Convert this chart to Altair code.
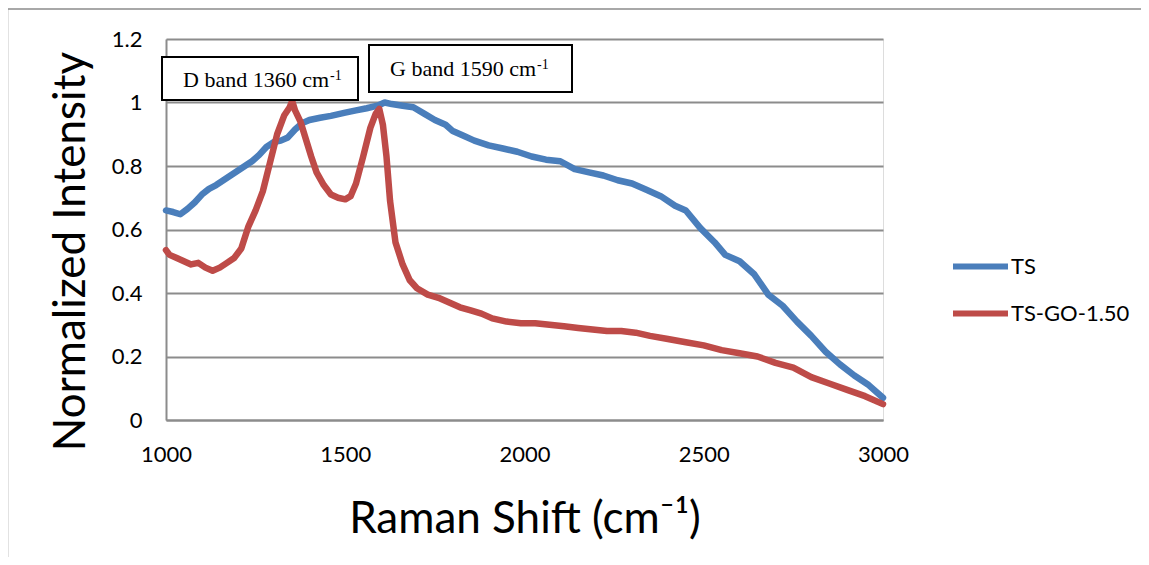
import altair as alt
import pandas as pd

# ---- data ----
ts_x = [1000, 1020, 1040, 1060, 1080, 1100, 1120, 1140, 1160, 1180, 1200, 1220, 1240, 1260,
        1280, 1300, 1320, 1340, 1360, 1380, 1400, 1430, 1460, 1500, 1530, 1560, 1590, 1610,
        1630, 1660, 1690, 1720, 1750, 1780, 1800, 1830, 1860, 1900, 1940, 1980, 2020, 2060,
        2100, 2140, 2180, 2220, 2260, 2300, 2340, 2380, 2420, 2450, 2490, 2530, 2560, 2600,
        2640, 2680, 2720, 2760, 2800, 2840, 2880, 2920, 2960, 3000]
ts_y = [0.66, 0.655, 0.648, 0.665, 0.685, 0.71, 0.728, 0.74, 0.755, 0.77, 0.785, 0.80, 0.815, 0.835,
        0.86, 0.875, 0.88, 0.89, 0.915, 0.935, 0.945, 0.952, 0.958, 0.968, 0.975, 0.982, 0.99, 1.0,
        0.995, 0.99, 0.985, 0.965, 0.945, 0.93, 0.91, 0.895, 0.88, 0.865, 0.855, 0.845, 0.83, 0.82,
        0.815, 0.79, 0.78, 0.77, 0.755, 0.745, 0.725, 0.705, 0.675, 0.66, 0.605, 0.56, 0.52, 0.5,
        0.46, 0.395, 0.36, 0.31, 0.265, 0.215, 0.175, 0.14, 0.11, 0.07]

go_x = [1000, 1010, 1030, 1050, 1070, 1090, 1110, 1130, 1150, 1170, 1190, 1210, 1230, 1250,
        1270, 1290, 1310, 1330, 1345, 1352, 1360, 1375, 1390, 1405, 1420, 1440, 1460, 1480,
        1500, 1515, 1530, 1550, 1570, 1585, 1595, 1605, 1615, 1625, 1640, 1660, 1680, 1700,
        1730, 1760, 1790, 1820, 1850, 1880, 1910, 1950, 1990, 2030, 2070, 2110, 2150, 2190,
        2230, 2270, 2310, 2350, 2400, 2450, 2500, 2550, 2600, 2650, 2700, 2750, 2800, 2850,
        2900, 2950, 3000]
go_y = [0.535, 0.52, 0.51, 0.50, 0.49, 0.495, 0.48, 0.47, 0.48, 0.495, 0.51, 0.54, 0.61, 0.66,
        0.72, 0.81, 0.90, 0.96, 0.985, 1.005, 0.975, 0.94, 0.885, 0.83, 0.78, 0.74, 0.71, 0.70,
        0.695, 0.705, 0.745, 0.83, 0.92, 0.965, 0.98, 0.93, 0.83, 0.69, 0.56, 0.49, 0.44, 0.415,
        0.395, 0.385, 0.37, 0.355, 0.345, 0.335, 0.32, 0.31, 0.305, 0.305, 0.30, 0.295, 0.29, 0.285,
        0.28, 0.28, 0.275, 0.265, 0.255, 0.245, 0.235, 0.22, 0.21, 0.2, 0.18, 0.165, 0.135, 0.115,
        0.095, 0.075, 0.05]

series_names = ["TS", "TS-GO-1.50"]
series_colors = ["#4a7ebb", "#be4b48"]
x_ticks = [1000, 1500, 2000, 2500, 3000]
y_ticks = [0, 0.2, 0.4, 0.6, 0.8, 1.0, 1.2]
annotations = ["D band 1360 cm", "G band 1590 cm"]
superscript = "-1"

df = pd.concat([
    pd.DataFrame({"shift": ts_x, "intensity": ts_y, "series": series_names[0]}),
    pd.DataFrame({"shift": go_x, "intensity": go_y, "series": series_names[1]}),
], ignore_index=True)

one = pd.DataFrame({"k": [0]})

FONT = "Lato"
GRID = "#8c8c8c"

lines = alt.Chart(df).mark_line(strokeWidth=6.5, strokeCap="round", strokeJoin="round").encode(
    x=alt.X("shift:Q",
            scale=alt.Scale(domain=[1000, 3000], nice=False, zero=False),
            axis=alt.Axis(values=x_ticks, format="d", title="Raman Shift (cm⁻¹)",
                          grid=False, ticks=False, domain=True, domainColor=GRID, domainWidth=2,
                          labelFont=FONT, labelFontSize=22, labelColor="black", labelPadding=24,
                          labelFlush=False,
                          titleFont=FONT, titleFontSize=44, titleFontWeight="normal", titleColor="black",
                          titleBaseline="alphabetic", titleY=112)),
    y=alt.Y("intensity:Q",
            scale=alt.Scale(domain=[0, 1.2], nice=False),
            axis=alt.Axis(values=y_ticks, format="~g", title="Normalized Intensity",
                          grid=True, gridColor=GRID, gridWidth=2, ticks=False,
                          domain=True, domainColor=GRID, domainWidth=2,
                          labelFont=FONT, labelFontSize=22, labelColor="black", labelPadding=24,
                          labelFlush=False,
                          titleFont=FONT, titleFontSize=44, titleFontWeight="normal", titleColor="black",
                          titleAngle=270, titleBaseline="alphabetic", titleAlign="center",
                          titleX=-82, titleY=212)),
    color=alt.Color("series:N",
                    scale=alt.Scale(domain=series_names, range=series_colors),
                    legend=alt.Legend(orient="none", legendX=784, legendY=197, title=None,
                                      symbolType="stroke", symbolSize=3025, symbolStrokeWidth=6,
                                      labelFont=FONT, labelFontSize=22, labelColor="black",
                                      labelOffset=0, rowPadding=4)),
)

frame = alt.Chart(one).mark_rect(fill="white", fillOpacity=0, stroke="#8c8c8c", strokeWidth=1.5).encode(
    x=alt.value(-158.5), x2=alt.value(1300), y=alt.value(-30), y2=alt.value(900))

box_d = alt.Chart(one).mark_rect(fill="white", stroke="black", strokeWidth=2).encode(
    x=alt.value(-4), x2=alt.value(192), y=alt.value(18), y2=alt.value(61))
box_g = alt.Chart(one).mark_rect(fill="white", stroke="black", strokeWidth=2).encode(
    x=alt.value(203), x2=alt.value(406), y=alt.value(6), y2=alt.value(53))

txt_kw = dict(font="Liberation Serif", align="left", baseline="alphabetic", color="black")
t_d = alt.Chart(one).mark_text(fontSize=22, text=annotations[0], **txt_kw).encode(
    x=alt.value(17), y=alt.value(48))
s_d = alt.Chart(one).mark_text(fontSize=14, text=superscript, **txt_kw).encode(
    x=alt.value(164), y=alt.value(41))
t_g = alt.Chart(one).mark_text(fontSize=22, text=annotations[1], **txt_kw).encode(
    x=alt.value(224), y=alt.value(37))
s_g = alt.Chart(one).mark_text(fontSize=14, text=superscript, **txt_kw).encode(
    x=alt.value(371), y=alt.value(30))

chart = alt.layer(frame, lines, box_d, box_g, t_d, s_d, t_g, s_g).properties(
    width=717, height=381,
    autosize=alt.AutoSizeParams(type="none"),
    padding={"left": 158, "top": 31, "right": 258, "bottom": 137},
).configure_view(stroke=None).configure(background="white")

chart.save("out.html", embed_options={"renderer": "svg", "actions": False})
